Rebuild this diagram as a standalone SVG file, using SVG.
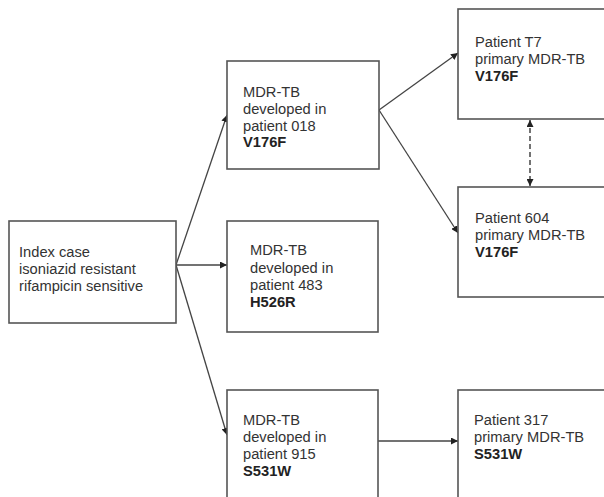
<svg xmlns="http://www.w3.org/2000/svg" width="604" height="497" viewBox="0 0 604 497">
<defs>
<style>
.box{fill:#fff;stroke:#555;stroke-width:1.6}
.t{font-family:"Liberation Sans",Arial,sans-serif;font-size:14.7px;fill:#333}
.b{font-weight:bold;fill:#222}
.c{stroke:#444;stroke-width:1.3;fill:none}
.d{stroke:#444;stroke-width:1.5;fill:none;stroke-dasharray:5,3}
</style>
<marker id="ah" viewBox="0 0 10 10" refX="10" refY="5" markerWidth="7" markerHeight="7" markerUnits="userSpaceOnUse" orient="auto-start-reverse">
<path d="M0,0 L10,5 L0,10 z" fill="#222"/>
</marker>
</defs>
<rect width="604" height="497" fill="#fff"/>
<g id="connectors">
<line class="c" x1="176" y1="265" x2="227" y2="115" marker-end="url(#ah)"/>
<line class="c" x1="176" y1="265" x2="227" y2="265" marker-end="url(#ah)"/>
<line class="c" x1="176" y1="265" x2="227" y2="435" marker-end="url(#ah)"/>
<line class="c" x1="379" y1="110" x2="458" y2="53" marker-end="url(#ah)"/>
<line class="c" x1="379" y1="110" x2="458" y2="233" marker-end="url(#ah)"/>
<line class="d" x1="530" y1="120" x2="530" y2="186" marker-start="url(#ah)" marker-end="url(#ah)"/>
<line class="c" x1="378" y1="441" x2="458" y2="441" marker-end="url(#ah)"/>
</g>
<g id="index">
<rect class="box" x="9" y="221" width="167" height="102"/>
<text class="t" x="19" y="257">Index case</text>
<text class="t" x="19" y="274">isoniazid resistant</text>
<text class="t" x="19" y="291">rifampicin sensitive</text>
</g>
<g id="p018">
<rect class="box" x="227" y="61" width="152" height="108"/>
<text class="t" x="243" y="97">MDR-TB</text>
<text class="t" x="243" y="113.5">developed in</text>
<text class="t" x="243" y="130.5">patient 018</text>
<text class="t b" x="243" y="147">V176F</text>
</g>
<g id="p483">
<rect class="box" x="227" y="221" width="151" height="111"/>
<text class="t" x="250" y="255">MDR-TB</text>
<text class="t" x="250" y="272.5">developed in</text>
<text class="t" x="250" y="290">patient 483</text>
<text class="t b" x="250" y="307">H526R</text>
</g>
<g id="p915">
<rect class="box" x="227" y="390" width="151" height="130"/>
<text class="t" x="243" y="425">MDR-TB</text>
<text class="t" x="243" y="442">developed in</text>
<text class="t" x="243" y="459">patient 915</text>
<text class="t b" x="243" y="476">S531W</text>
</g>
<g id="pT7">
<rect class="box" x="458" y="9" width="160" height="110"/>
<text class="t" x="475" y="47">Patient T7</text>
<text class="t" x="475" y="64">primary MDR-TB</text>
<text class="t b" x="475" y="81">V176F</text>
</g>
<g id="p604">
<rect class="box" x="458" y="187" width="160" height="110"/>
<text class="t" x="475" y="223">Patient 604</text>
<text class="t" x="475" y="240">primary MDR-TB</text>
<text class="t b" x="475" y="257">V176F</text>
</g>
<g id="p317">
<rect class="box" x="458" y="390" width="160" height="130"/>
<text class="t" x="474" y="425">Patient 317</text>
<text class="t" x="474" y="442">primary MDR-TB</text>
<text class="t b" x="474" y="459">S531W</text>
</g>
</svg>
